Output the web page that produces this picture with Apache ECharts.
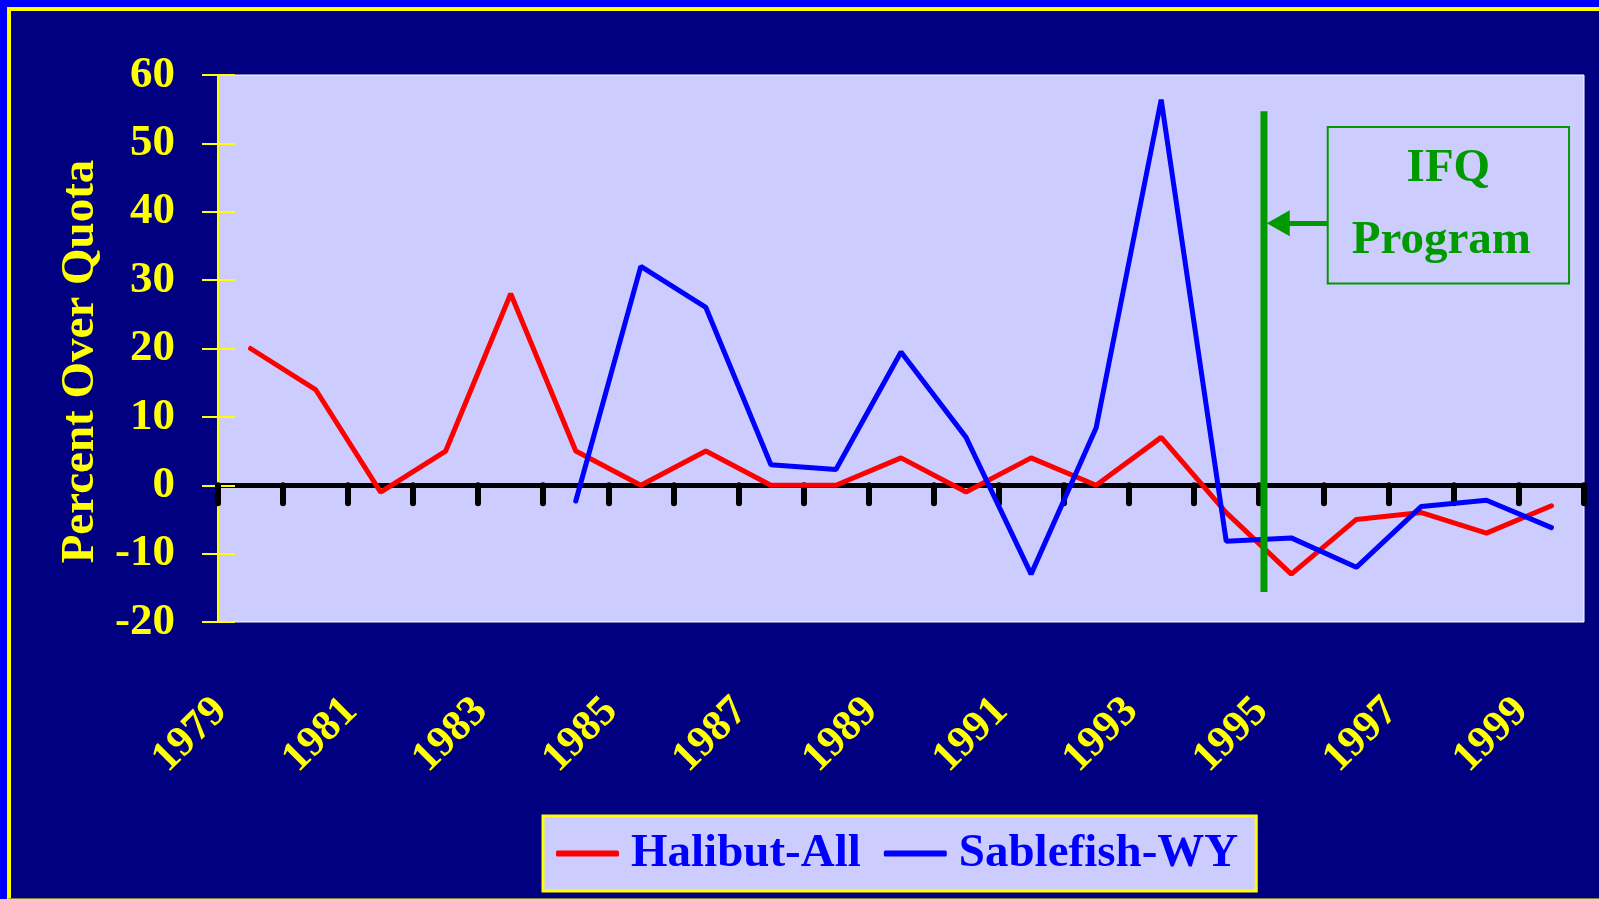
<!DOCTYPE html>
<html>
<head>
<meta charset="utf-8">
<script src="https://cdn.jsdelivr.net/npm/echarts@6/dist/echarts.min.js"></script>
<style>
html,body{margin:0;padding:0;width:1599px;height:899px;overflow:hidden;background:#0000FF;}
#frame{position:absolute;left:7px;top:7px;width:1592px;height:892px;background:#000080;border-left:4px solid #FFFF00;border-top:4px solid #FFFF00;border-bottom:1px solid #808040;box-sizing:border-box;}
#chart{position:absolute;left:0;top:0;width:1599px;height:899px;}
</style>
</head>
<body>
<div id="frame"></div>
<div id="chart"></div>
<script>
// ---- data ----
const years = ['1979','1980','1981','1982','1983','1984','1985','1986','1987','1988','1989','1990','1991','1992','1993','1994','1995','1996','1997','1998','1999'];
const halibutAll = [20, 14, -1, 5, 28, 5, 0, 5, 0, 0, 4, -1, 4, 0, 7, -4, -13, -5, -4, -7, -3];
const sablefishWY = [null, null, null, null, null, -2.3, 32, 26, 3, 2.3, 19.5, 7, -13, 8.4, 56.4, -8.2, -7.7, -12, -3.1, -2.2, -6.2];
const seriesNames = ['Halibut-All', 'Sablefish-WY'];
const yTicks = {min: -20, max: 60, interval: 10};
// IFQ annotation (in year / percent units)
const ifqStartYear = 1994.58;
const ifqLineRange = [-15.6, 54.7];
const ifqBox = {x0: 1995.56, x1: 1999.27, y0: 52.4, y1: 29.5};
const ifqArrow = {fromYear: 1995.56, toYear: 1994.80, y: 38.3};
const ifqLines = ['IFQ', 'Program'];

const FONT = 'Liberation Serif, Times New Roman, serif';
const chart = echarts.init(document.getElementById('chart'), null, {renderer: 'canvas'});

chart.setOption({
  backgroundColor: 'transparent',
  animation: false,
  grid: {
    left: 218, right: 15, top: 75, bottom: 277,
    show: true, backgroundColor: '#CCCCFF', borderColor: '#FFFFFF', borderWidth: 1
  },
  legend: {
    data: seriesNames,
    left: 543, top: 816,
    orient: 'horizontal',
    icon: 'roundRect',
    backgroundColor: '#CCCCFF',
    borderColor: '#FFFF00', borderWidth: 3, borderRadius: 0,
    padding: [14, 18, 14, 13],
    itemWidth: 63, itemHeight: 6, itemGap: 23,
    textStyle: {color: '#0000FF', fontSize: 47, fontWeight: 'bold', fontFamily: FONT, padding: [0, 0, 0, 7]}
  },
  xAxis: [
    {
      type: 'category', data: years, position: 'bottom',
      axisLine: {show: false, onZero: false},
      axisTick: {show: false},
      axisLabel: {
        interval: 1, rotate: 45, margin: 53,
        align: 'right', verticalAlign: 'middle', padding: [0, 42, 0, 0],
        color: '#FFFF00', fontSize: 43, fontWeight: 'bold', fontFamily: FONT
      },
      splitLine: {show: false}
    },
    {
      type: 'category', data: years, position: 'bottom',
      axisLine: {show: true, onZero: true, lineStyle: {color: '#000000', width: 5}},
      axisTick: {show: true, interval: 0, length: 18, lineStyle: {color: '#000000', width: 6, cap: 'round'}},
      axisLabel: {show: false},
      splitLine: {show: false}
    },
    {
      type: 'value', min: 1978.5, max: 1999.5, show: false,
      axisLine: {onZero: false}
    }
  ],
  yAxis: [
    {
      type: 'value', position: 'left',
      min: yTicks.min, max: yTicks.max, interval: yTicks.interval,
      name: 'Percent Over Quota', nameLocation: 'middle', nameGap: 114, nameRotate: 90,
      nameTextStyle: {color: '#FFFF00', fontSize: 47, fontWeight: 'bold', fontFamily: FONT, padding: [0, 26, 0, 0]},
      axisLine: {show: true, onZero: false, lineStyle: {color: '#FFFF00', width: 2}},
      axisTick: {show: true, length: 16, lineStyle: {color: '#FFFF00', width: 2}},
      axisLabel: {color: '#FFFF00', fontSize: 45, fontWeight: 'bold', fontFamily: FONT, margin: 43, padding: [28, 0, 0, 0]},
      splitLine: {show: false}
    },
    {
      type: 'value', position: 'left',
      min: yTicks.min, max: yTicks.max, interval: yTicks.interval,
      axisLine: {show: false, onZero: false},
      axisTick: {show: true, inside: true, length: 17, lineStyle: {color: '#FFFF00', width: 2}},
      axisLabel: {show: false},
      splitLine: {show: false}
    }
  ],
  series: [
    {
      name: seriesNames[0], type: 'line', xAxisIndex: 0, yAxisIndex: 0,
      data: halibutAll, symbol: 'none', showSymbol: false,
      itemStyle: {color: '#FF0000'},
      lineStyle: {color: '#FF0000', width: 5, cap: 'round'},
      emphasis: {disabled: true}, z: 3
    },
    {
      name: seriesNames[1], type: 'line', xAxisIndex: 0, yAxisIndex: 0,
      data: sablefishWY, symbol: 'none', showSymbol: false, connectNulls: false,
      itemStyle: {color: '#0000FF'},
      lineStyle: {color: '#0000FF', width: 5, cap: 'round'},
      emphasis: {disabled: true}, z: 4
    },
    {
      name: 'IFQ', type: 'line', xAxisIndex: 2, yAxisIndex: 0,
      data: [[ifqStartYear, ifqLineRange[0]], [ifqStartYear, ifqLineRange[1]]],
      symbol: 'none', showSymbol: false, silent: true,
      lineStyle: {color: '#009900', width: 7, cap: 'butt'},
      emphasis: {disabled: true}, z: 5,
      markLine: {
        silent: true, animation: false,
        symbol: ['none', 'triangle'], symbolSize: [26, 23],
        label: {show: false},
        lineStyle: {color: '#009900', width: 5, type: 'solid'},
        emphasis: {disabled: true},
        data: [[{coord: [ifqArrow.fromYear, ifqArrow.y]}, {coord: [ifqArrow.toYear, ifqArrow.y]}]]
      },
      markArea: {
        silent: true,
        itemStyle: {color: 'rgba(0,0,0,0)', borderColor: '#009900', borderWidth: 2},
        label: {
          show: true, position: 'inside',
          formatter: '{a|' + ifqLines[0] + '}\n{b|' + ifqLines[1] + '}',
          color: '#009900', fontSize: 47, fontWeight: 'bold', fontFamily: FONT,
          lineHeight: 72, align: 'center',
          rich: {
            a: {color: '#009900', fontSize: 47, fontWeight: 'bold', fontFamily: FONT, lineHeight: 72},
            b: {color: '#009900', fontSize: 47, fontWeight: 'bold', fontFamily: FONT, lineHeight: 72, padding: [0, 14, 0, 0]}
          }
        },
        emphasis: {disabled: true},
        data: [[{coord: [ifqBox.x0, ifqBox.y0]}, {coord: [ifqBox.x1, ifqBox.y1]}]]
      }
    }
  ]
});
</script>
</body>
</html>
